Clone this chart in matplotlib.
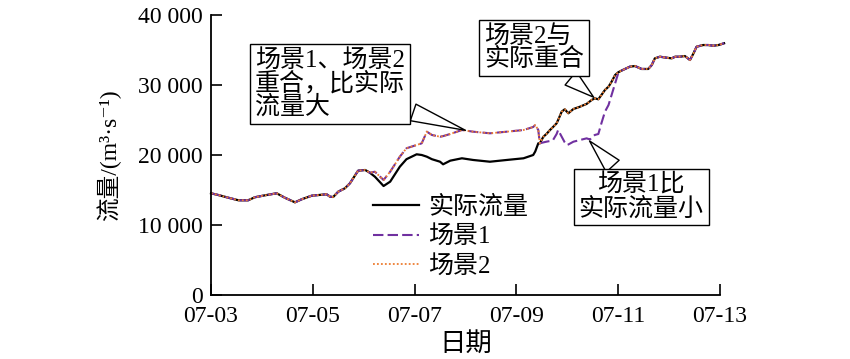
import numpy as np
import matplotlib
matplotlib.use("Agg")
import matplotlib.pyplot as plt

plt.rcParams['font.family'] = ['Liberation Serif', 'Noto Sans CJK SC', 'DejaVu Serif']

# ---- data (days after 07-03 00:00, flow in m3/s) ----
t_base = [0, 0.14, 0.34, 0.54, 0.73, 0.86, 1.06, 1.29, 1.45, 1.65, 1.78, 1.98,
          2.27, 2.34, 2.40, 2.50, 2.63, 2.73, 2.89, 3.03, 3.12]
flow_base = [14530, 14290, 13900, 13530, 13530, 13960, 14240, 14530, 13900, 13240,
             13670, 14190, 14390, 14040, 14000, 14760, 15240, 15960, 17760, 17860, 17470]

t_mid = [3.22, 3.39, 3.52, 3.71, 3.84, 4.04, 4.14, 4.24, 4.34, 4.50, 4.56, 4.70,
         4.93, 5.15, 5.48, 5.81, 6.14, 6.33, 6.37, 6.43]
actual_mid = [16900, 15570, 16190, 18330, 19400, 20100, 20000, 19760, 19400, 19040,
              18670, 19190, 19530, 19290, 19040, 19290, 19530, 20000, 20500, 21670]
scen_mid = [17610, 16430, 17610, 19760, 20960, 21430, 21670, 23330, 22860, 22610,
            22700, 23000, 23570, 23330, 23100, 23330, 23570, 24000, 24290, 23570]

t_late = [6.46, 6.53, 6.59, 6.66, 6.72, 6.79, 6.82, 6.89, 6.95, 6.99, 7.02, 7.12,
          7.25, 7.28, 7.38, 7.41, 7.45, 7.48, 7.54, 7.61, 7.67, 7.74, 7.81, 7.87,
          7.94, 8.00, 8.06]
actual_late = [21670, 22610, 23000, 23570, 24000, 24530, 25000, 26190, 26530, 26200,
               25960, 26570, 26900, 27000, 27300, 27470, 27700, 27860, 28100, 27960,
               28570, 29290, 29760, 30470, 31430, 31810, 32040]
scen1_late = [21670, 21800, 21900, 22000, 22140, 23000, 23570, 22610, 21800, 21430,
              21500, 21900, 22140, 22200, 22380, 22300, 22240, 22500, 22860, 23000,
              24530, 26190, 27140, 28570, 30240, 31670, 32040]

t_tail = [8.23, 8.33, 8.46, 8.59, 8.66, 8.72, 8.82, 8.95, 9.05, 9.12, 9.21, 9.31,
          9.41, 9.48, 9.54, 9.67, 9.77, 9.87, 9.97, 10.08]
flow_tail = [32620, 32710, 32290, 32290, 32860, 33810, 34040, 33900, 33810, 34040,
             34040, 34140, 33570, 34530, 35470, 35710, 35710, 35610, 35710, 35960]

x_ticks = [0, 2, 4, 6, 8, 10]
x_labels = ['07-03', '07-05', '07-07', '07-09', '07-11', '07-13']
y_ticks = [0, 10000, 20000, 30000, 40000]
y_labels = ['0', '10 000', '20 000', '30 000', '40 000']
series_names = ['实际流量', '场景1', '场景2']

t_all = np.array(t_base + t_mid + t_late + t_tail)
actual = np.array(flow_base + actual_mid + actual_late + flow_tail)
scen1 = np.array(flow_base + scen_mid + scen1_late + flow_tail)
scen2 = np.array(flow_base + scen_mid + actual_late + flow_tail)

# ---- figure ----
fig = plt.figure(figsize=(8.5, 3.59), dpi=100)
ax = fig.add_axes([211/850, 1-295/359, (720-211)/850, (295-15)/359])

ax.plot(t_all, actual, color='black', lw=1.6, label=series_names[0], clip_on=False)
ax.plot(t_all, scen1, color='#7030A0', lw=1.5, ls=(0, (5, 2)), label=series_names[1], clip_on=False)
ax.plot(t_all, scen2, color='#ED7D31', lw=1.3, ls=(0, (1, 1.2)), label=series_names[2], clip_on=False)

ax.set_xlim(0, 10)
ax.set_ylim(0, 40000)
ax.set_xticks(x_ticks)
ax.set_xticklabels(x_labels)
ax.set_yticks(y_ticks)
ax.set_yticklabels(y_labels)
ax.tick_params(direction='in', length=8, width=1.2, labelsize=17, pad=6, colors='black')
ax.tick_params(axis='x', pad=8)
for s in ['top', 'right']:
    ax.spines[s].set_visible(False)
for s in ['left', 'bottom']:
    ax.spines[s].set_linewidth(1.3)

ax.set_ylabel('流量/(m³·s⁻¹)', fontsize=17, labelpad=12,
              family=['Liberation Serif', 'Noto Sans CJK SC', 'DejaVu Serif'])
ax.set_xlabel('日期', fontsize=19, labelpad=2, family=['Noto Sans CJK SC'])

leg = ax.legend(loc='upper left', bbox_to_anchor=((373-211)/509, (295-195)/280),
                frameon=False, fontsize=18, handlelength=1.85, handletextpad=0.35,
                labelspacing=0.28, borderpad=0, borderaxespad=0)

bbox = dict(boxstyle='square,pad=0.2', fc='white', ec='black', lw=1.0)
wedge = dict(arrowstyle='wedge,tail_width=0.7,shrink_factor=0.5', fc='white', ec='black', lw=1.0)

ax.annotate('场景1、场景2\n重合，比实际\n流量大', xy=(5.05, 23400), xycoords='data',
            xytext=(330, 359-84), textcoords='figure pixels', fontsize=18,
            ha='center', va='center', multialignment='left', linespacing=1.0,
            bbox=bbox, arrowprops=wedge)
ax.annotate('场景2与\n实际重合', xy=(7.56, 28000), xycoords='data',
            xytext=(534, 359-48), textcoords='figure pixels', fontsize=18,
            ha='center', va='center', multialignment='left', linespacing=1.0,
            bbox=bbox, arrowprops=wedge)
ax.annotate('场景1比\n实际流量小', xy=(7.40, 22300), xycoords='data',
            xytext=(641, 359-197), textcoords='figure pixels', fontsize=18,
            ha='center', va='center', multialignment='center', linespacing=1.0,
            bbox=bbox, arrowprops=wedge)

fig.savefig('out.png', dpi=100)
